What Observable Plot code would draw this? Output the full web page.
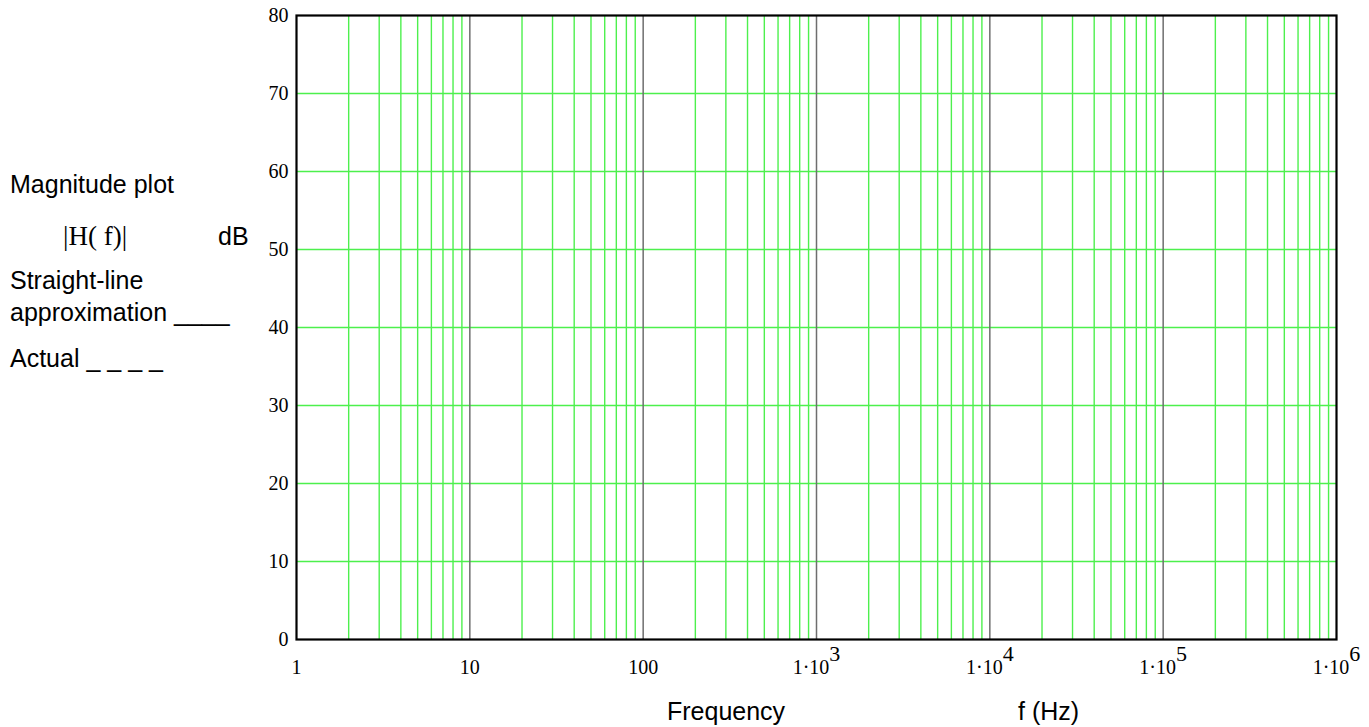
<!DOCTYPE html>
<html>
<head>
<meta charset="utf-8">
<script src="https://cdn.jsdelivr.net/npm/d3@7"></script>
<script src="https://cdn.jsdelivr.net/npm/@observablehq/plot@0.6"></script>
<style>
  html, body { margin: 0; padding: 0; background: #fff; }
  #chart svg { display: block; }
</style>
</head>
<body>
<div id="chart"></div>
<script>
// ---- data ----
const decades = [1, 10, 100, 1e3, 1e4, 1e5, 1e6];
const minorMultipliers = [2, 3, 4, 5, 6, 7, 8, 9];
const yTicks = [0, 10, 20, 30, 40, 50, 60, 70, 80];
const xTickLabels = ["1", "10", "100", "1·10^3", "1·10^4", "1·10^5", "1·10^6"];
const leftLabels = ["Magnitude plot", "|H( f)|", "dB", "Straight-line", "approximation ____", "Actual _ _ _ _"];
const xTitle = "Frequency";
const xUnit = "f (Hz)";

const minorTicks = decades.slice(0, -1).flatMap(d => minorMultipliers.map(m => d * m));
const innerDecades = decades.slice(1, -1);
const innerY = yTicks.slice(1, -1);

const serif = "'Liberation Serif', 'Times New Roman', serif";
const sans = "'Liberation Sans', Arial, sans-serif";

const chart = Plot.plot({
  width: 1369,
  height: 727,
  marginLeft: 296,
  marginRight: 33,
  marginTop: 15,
  marginBottom: 88,
  style: { background: "#fff", overflow: "visible" },
  x: { type: "log", domain: [1, 1e6] },
  y: { domain: [0, 80] },
  marks: [
    Plot.ruleX(minorTicks, { stroke: "#4df04d", strokeWidth: 1.4 }),
    Plot.ruleY(innerY, { stroke: "#4df04d", strokeWidth: 1.4 }),
    Plot.ruleX(innerDecades, { stroke: "#6e6e6e", strokeWidth: 1.5 }),
    Plot.frame({ stroke: "#000", strokeWidth: 2.2 }),
    Plot.axisX(decades, {
      tickSize: 0, tickPadding: 20, fontSize: 20, fontFamily: serif, fill: "#000",
      tickFormat: (d) => xTickLabels[decades.indexOf(d)]
    }),
    Plot.axisY(yTicks, {
      tickSize: 0, tickPadding: 8, fontSize: 20, fontFamily: serif, fill: "#000"
    })
  ]
});

document.getElementById("chart").appendChild(chart);

// superscripts for tick labels
d3.select(chart).selectAll("g[aria-label='x-axis tick label'] text").each(function () {
  const t = this.textContent;
  if (t.includes("^")) {
    const [base, exp] = t.split("^");
    const sel = d3.select(this);
    sel.text(base);
    sel.append("tspan").attr("dy", "-0.6em").attr("font-size", 22).text(exp);
  }
});

const svg = d3.select(chart);
const ann = svg.append("g").attr("fill", "#000").attr("text-anchor", "start");
ann.append("text").attr("x", 10).attr("y", 193).attr("font-family", sans).attr("font-size", 25).text(leftLabels[0]);
ann.append("text").attr("x", 63).attr("y", 245).attr("font-family", serif).attr("font-size", 27)
  .style("white-space", "pre").text(leftLabels[1]);
ann.append("text").attr("x", 218).attr("y", 245).attr("font-family", sans).attr("font-size", 25).text(leftLabels[2]);
ann.append("text").attr("x", 10).attr("y", 289).attr("font-family", sans).attr("font-size", 25).text(leftLabels[3]);
ann.append("text").attr("x", 10).attr("y", 321).attr("font-family", sans).attr("font-size", 25).text(leftLabels[4]);
ann.append("text").attr("x", 10).attr("y", 367).attr("font-family", sans).attr("font-size", 25).text(leftLabels[5]);
ann.append("text").attr("x", 667).attr("y", 720).attr("font-family", sans).attr("font-size", 25).text(xTitle);
ann.append("text").attr("x", 1018).attr("y", 720).attr("font-family", sans).attr("font-size", 25).text(xUnit);
</script>
</body>
</html>
